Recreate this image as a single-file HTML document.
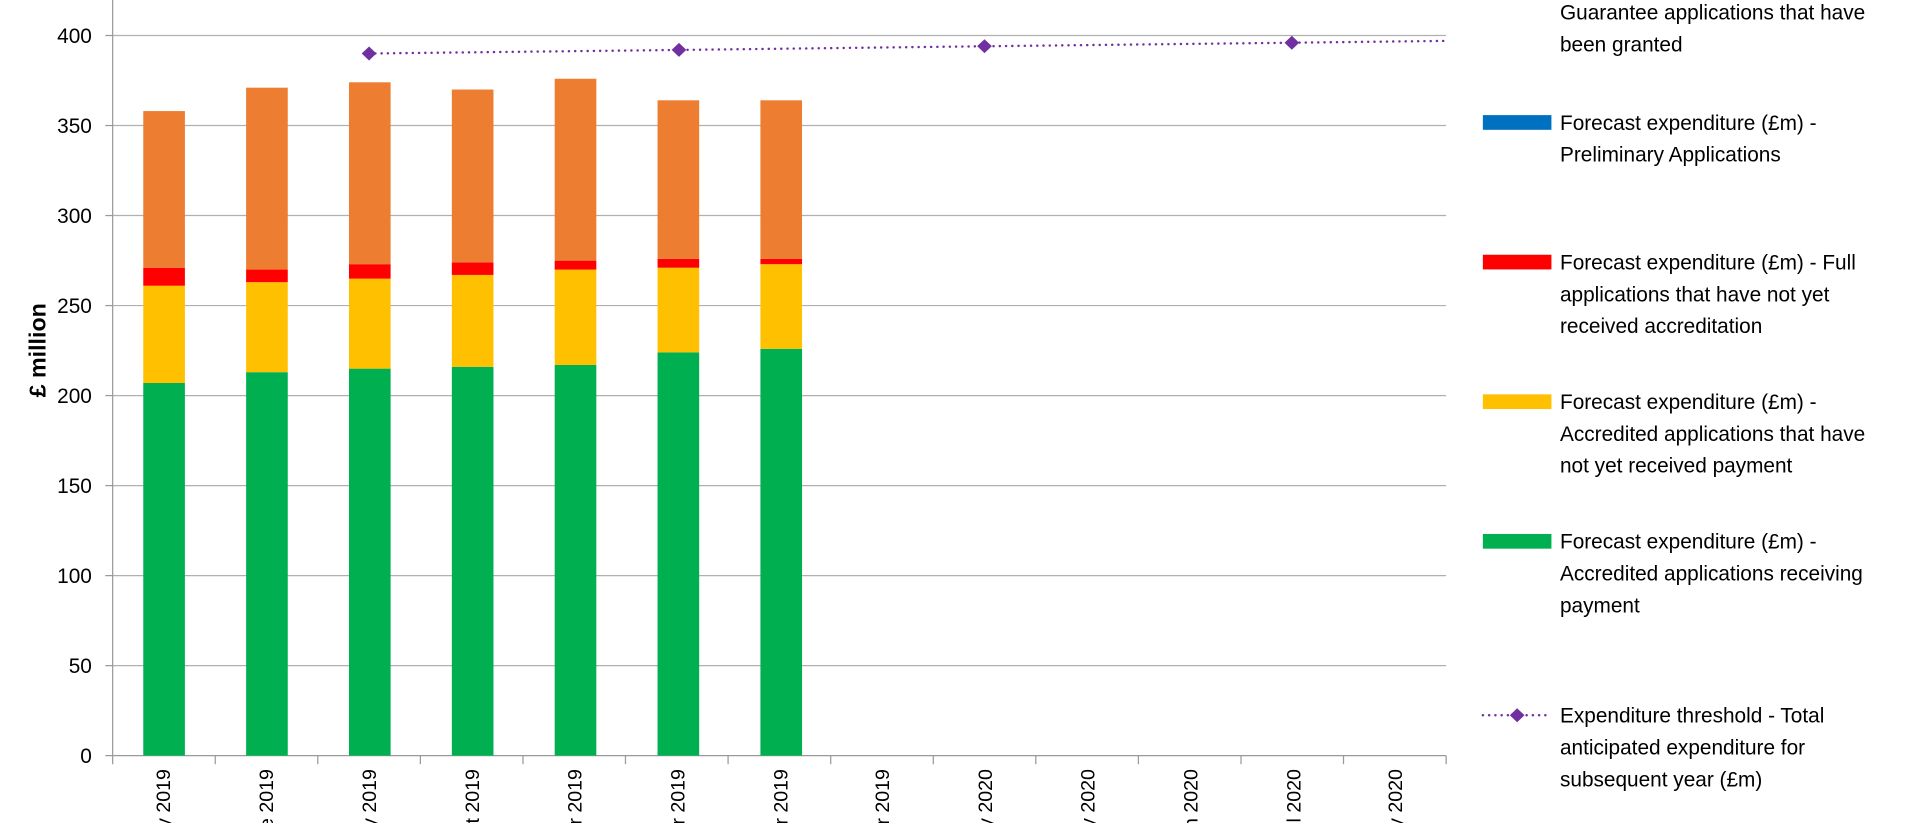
<!DOCTYPE html>
<html><head><meta charset="utf-8"><style>
html,body{margin:0;padding:0;background:#fff;width:1920px;height:823px;overflow:hidden;}
svg{display:block;}
text{font-family:"Liberation Sans",sans-serif;fill:#000;}
</style></head><body>
<svg width="1920" height="823" viewBox="0 0 1568 672" preserveAspectRatio="none" overflow="hidden">
<rect width="1568" height="672" fill="#fff"/>
<g stroke="#b0b0b0" stroke-width="1">
<line x1="92" x2="1181" y1="29" y2="29"/>
<line x1="92" x2="1181" y1="102.5" y2="102.5"/>
<line x1="92" x2="1181" y1="176" y2="176"/>
<line x1="92" x2="1181" y1="249.5" y2="249.5"/>
<line x1="92" x2="1181" y1="323" y2="323"/>
<line x1="92" x2="1181" y1="396.5" y2="396.5"/>
<line x1="92" x2="1181" y1="470" y2="470"/>
<line x1="92" x2="1181" y1="543.5" y2="543.5"/>
</g>
<g stroke="#999" stroke-width="1">
<line x1="92" x2="92" y1="0" y2="624"/>
<line x1="86" x2="1181" y1="617" y2="617"/>
<line x1="86" x2="92" y1="29" y2="29"/><line x1="86" x2="92" y1="102.5" y2="102.5"/><line x1="86" x2="92" y1="176" y2="176"/><line x1="86" x2="92" y1="249.5" y2="249.5"/><line x1="86" x2="92" y1="323" y2="323"/><line x1="86" x2="92" y1="396.5" y2="396.5"/><line x1="86" x2="92" y1="470" y2="470"/><line x1="86" x2="92" y1="543.5" y2="543.5"/>
<line x1="175.8" x2="175.8" y1="617" y2="624"/><line x1="259.5" x2="259.5" y1="617" y2="624"/><line x1="343.3" x2="343.3" y1="617" y2="624"/><line x1="427.1" x2="427.1" y1="617" y2="624"/><line x1="510.8" x2="510.8" y1="617" y2="624"/><line x1="594.6" x2="594.6" y1="617" y2="624"/><line x1="678.4" x2="678.4" y1="617" y2="624"/><line x1="762.2" x2="762.2" y1="617" y2="624"/><line x1="845.9" x2="845.9" y1="617" y2="624"/><line x1="929.7" x2="929.7" y1="617" y2="624"/><line x1="1013.5" x2="1013.5" y1="617" y2="624"/><line x1="1097.2" x2="1097.2" y1="617" y2="624"/><line x1="1181" x2="1181" y1="617" y2="624"/>
</g>
<g font-size="17" text-anchor="end">
<text x="75" y="35">400</text><text x="75" y="108.5">350</text><text x="75" y="182">300</text><text x="75" y="255.5">250</text><text x="75" y="329">200</text><text x="75" y="402.5">150</text><text x="75" y="476">100</text><text x="75" y="549.5">50</text><text x="75" y="623">0</text>
</g>
<text transform="translate(37,286) rotate(-90)" font-size="19" font-weight="bold" text-anchor="middle">£ million</text>
<g id="bars">
<rect x="117" y="312.7" width="34" height="304.3" fill="#00b050"/><rect x="117" y="233.3" width="34" height="79.4" fill="#ffc000"/><rect x="117" y="218.6" width="34" height="14.7" fill="#ff0000"/><rect x="117" y="90.7" width="34" height="127.9" fill="#ed7d31"/>
<rect x="201" y="303.9" width="34" height="313.1" fill="#00b050"/><rect x="201" y="230.4" width="34" height="73.5" fill="#ffc000"/><rect x="201" y="220.1" width="34" height="10.3" fill="#ff0000"/><rect x="201" y="71.6" width="34" height="148.5" fill="#ed7d31"/>
<rect x="285" y="301" width="34" height="316" fill="#00b050"/><rect x="285" y="227.5" width="34" height="73.5" fill="#ffc000"/><rect x="285" y="215.7" width="34" height="11.8" fill="#ff0000"/><rect x="285" y="67.2" width="34" height="148.5" fill="#ed7d31"/>
<rect x="369" y="299.5" width="34" height="317.5" fill="#00b050"/><rect x="369" y="224.5" width="34" height="75" fill="#ffc000"/><rect x="369" y="214.2" width="34" height="10.3" fill="#ff0000"/><rect x="369" y="73.1" width="34" height="141.1" fill="#ed7d31"/>
<rect x="453" y="298" width="34" height="319" fill="#00b050"/><rect x="453" y="220.1" width="34" height="77.9" fill="#ffc000"/><rect x="453" y="212.8" width="34" height="7.3" fill="#ff0000"/><rect x="453" y="64.3" width="34" height="148.5" fill="#ed7d31"/>
<rect x="537" y="287.7" width="34" height="329.3" fill="#00b050"/><rect x="537" y="218.6" width="34" height="69.1" fill="#ffc000"/><rect x="537" y="211.3" width="34" height="7.3" fill="#ff0000"/><rect x="537" y="81.9" width="34" height="129.4" fill="#ed7d31"/>
<rect x="621" y="284.8" width="34" height="332.2" fill="#00b050"/><rect x="621" y="215.7" width="34" height="69.1" fill="#ffc000"/><rect x="621" y="211.3" width="34" height="4.4" fill="#ff0000"/><rect x="621" y="81.9" width="34" height="129.4" fill="#ed7d31"/>
</g>
<polyline points="301.4,43.7 554.5,40.8 804,37.8 1055,34.9 1181,33.4" fill="none" stroke="#7030a0" stroke-width="2" stroke-dasharray="0.1,5" stroke-linecap="round"/>
<g fill="#7030a0">
<path d="M301.4,38 l6,5.7 l-6,5.7 l-6,-5.7z"/>
<path d="M554.5,35 l6,5.7 l-6,5.7 l-6,-5.7z"/>
<path d="M804,32 l6,5.7 l-6,5.7 l-6,-5.7z"/>
<path d="M1055,29.2 l6,5.7 l-6,5.7 l-6,-5.7z"/>
</g>
<g font-size="16" text-anchor="end">
<text transform="translate(139,628) rotate(-90)">May 2019</text>
<text transform="translate(223,628) rotate(-90)">June 2019</text>
<text transform="translate(307,628) rotate(-90)">July 2019</text>
<text transform="translate(391,628) rotate(-90)">August 2019</text>
<text transform="translate(475,628) rotate(-90)">September 2019</text>
<text transform="translate(559,628) rotate(-90)">October 2019</text>
<text transform="translate(643,628) rotate(-90)">November 2019</text>
<text transform="translate(726,628) rotate(-90)">December 2019</text>
<text transform="translate(810,628) rotate(-90)">January 2020</text>
<text transform="translate(894,628) rotate(-90)">February 2020</text>
<text transform="translate(978,628) rotate(-90)">March 2020</text>
<text transform="translate(1062,628) rotate(-90)">April 2020</text>
<text transform="translate(1145,628) rotate(-90)">May 2020</text>
</g>
<g font-size="17">
<rect x="1211" y="-21" width="56" height="12" fill="#ed7d31"/>
<text x="1274" y="-16">Forecast expenditure (£m) - Tariff</text>
<text x="1274" y="16">Guarantee applications that have</text>
<text x="1274" y="42">been granted</text>
<rect x="1211" y="94" width="56" height="12" fill="#0070c0"/>
<text x="1274" y="106">Forecast expenditure (£m) -</text>
<text x="1274" y="132">Preliminary Applications</text>
<rect x="1211" y="208" width="56" height="12" fill="#ff0000"/>
<text x="1274" y="220">Forecast expenditure (£m) - Full</text>
<text x="1274" y="246">applications that have not yet</text>
<text x="1274" y="272">received accreditation</text>
<rect x="1211" y="322" width="56" height="12" fill="#ffc000"/>
<text x="1274" y="334">Forecast expenditure (£m) -</text>
<text x="1274" y="360">Accredited applications that have</text>
<text x="1274" y="386">not yet received payment</text>
<rect x="1211" y="436" width="56" height="12" fill="#00b050"/>
<text x="1274" y="448">Forecast expenditure (£m) -</text>
<text x="1274" y="474">Accredited applications receiving</text>
<text x="1274" y="500">payment</text>
<line x1="1211" x2="1267" y1="584" y2="584" stroke="#7030a0" stroke-width="2" stroke-dasharray="0.1,5" stroke-linecap="round"/>
<path d="M1239,578.3 l6,5.7 l-6,5.7 l-6,-5.7z" fill="#7030a0"/>
<text x="1274" y="590">Expenditure threshold - Total</text>
<text x="1274" y="616">anticipated expenditure for</text>
<text x="1274" y="642">subsequent year (£m)</text>
</g>
</svg>
</body></html>
